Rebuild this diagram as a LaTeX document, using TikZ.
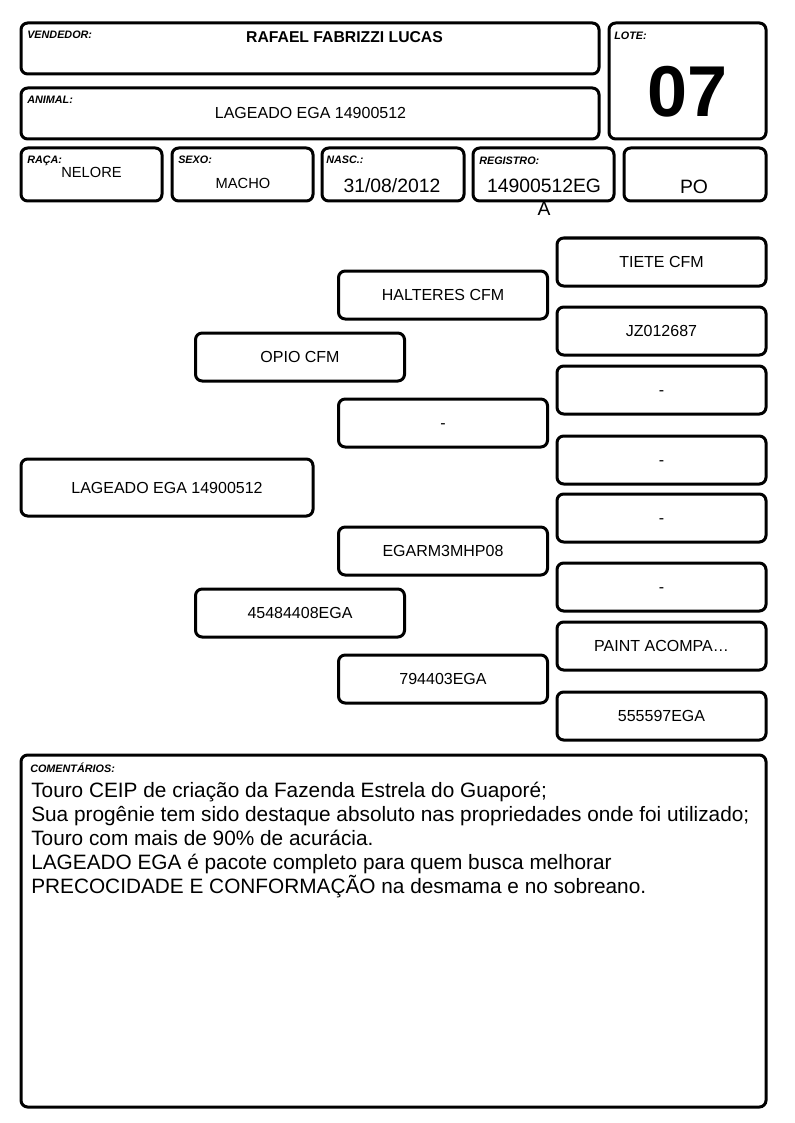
\documentclass[tikz,border=0pt]{standalone}
\usepackage{fontspec}
\setmainfont{Liberation Sans}
\usepackage{tikz}
\usetikzlibrary{positioning}

\begin{document}
\begin{tikzpicture}[
  x=0.75pt,y=-0.75pt,
  card/.style={draw=black,line width=2.25pt,rounded corners=5pt,inner sep=0pt},
  size/.style 2 args={minimum width=#1*0.75pt,minimum height=#2*0.75pt},
  ped/.style={card,size={209}{48},font=\fontsize{12}{14}\selectfont,text height=8.6pt,text depth=0pt},
  tag/.style={anchor=north west,inner sep=0pt,font=\fontsize{8.1}{9}\selectfont\bfseries\itshape},
  value/.style={inner sep=0pt,font=\fontsize{11}{13}\selectfont},
  bigvalue/.style={inner sep=0pt,font=\fontsize{14.5}{17}\selectfont,align=center}
]
\useasboundingbox (0,0) rectangle (794,1123);
% header
\node[card,size={578}{51}] (vendedor) at (310,48.5) {};
\node[card,size={578}{51}] (animal) at (310,113.5) {};
\node[card,size={157}{116}] (lote) at (687.5,81) {};
\node[card,size={141}{53}] (raca) at (91.5,174.5) {};
\node[card,size={141}{53}] (sexo) at (242.5,174.5) {};
\node[card,size={142}{53}] (nasc) at (393,174.5) {};
\node[card,size={141}{53}] (registro) at (543.5,174.5) {};
\node[card,size={142}{53}] (categoria) at (695,174.5) {};
\node[tag] (tvendedor) at (27,31) {VENDEDOR:};
\node[tag] (tanimal) at (27,96) {ANIMAL:};
\node[tag] (tlote) at (614,32) {LOTE:};
\node[tag] (traca) at (27,155.5) {RAÇA:};
\node[tag] (tsexo) at (178,155.5) {SEXO:};
\node[tag] (tnasc) at (326,155.5) {NASC.:};
\node[tag] (tregistro) at (479,156.5) {REGISTRO:};
\node[inner sep=0pt,font=\fontsize{11.8}{14}\selectfont\bfseries] (vvendedor) at (344.5,37) {RAFAEL FABRIZZI LUCAS};
\node[value,font=\fontsize{12}{14}\selectfont] (vanimal) at (310.5,113) {LAGEADO EGA 14900512};
\node[inner sep=0pt,font=\fontsize{54}{60}\selectfont\bfseries] (vlote) at (687.5,92) {07};
\node[value] (vraca) at (91.5,172.5) {NELORE};
\node[value] (vsexo) at (243,183.5) {MACHO};
\node[bigvalue] (vnasc) at (392,185.5) {31/08/2012};
\node[bigvalue,anchor=north] (vregistro) at (544,179) {14900512EG\\A};
\node[bigvalue] (vcategoria) at (694,186.5) {PO};
% pedigree
\node[card,size={292}{57},font=\fontsize{12}{14}\selectfont] (proprio) at (167,487.5) {LAGEADO EGA 14900512};
\node[ped] (pai) at (300,357) {OPIO CFM};
\node[ped] (mae) at (300,613) {45484408EGA};
\node[ped] (avopp) at (443,295) {HALTERES CFM};
\node[ped] (avopm) at (443,423) {-};
\node[ped] (avomp) at (443,551) {EGARM3MHP08};
\node[ped] (avomm) at (443,679) {794403EGA};
\node[ped] (bis1) at (661.5,262) {TIETE CFM};
\node[ped] (bis2) at (661.5,331) {JZ012687};
\node[ped] (bis3) at (661.5,390) {-};
\node[ped] (bis4) at (661.5,460) {-};
\node[ped] (bis5) at (661.5,518) {-};
\node[ped] (bis6) at (661.5,587) {-};
\node[ped] (bis7) at (661.5,646) {PAINT ACOMPA…};
\node[ped] (bis8) at (661.5,716) {555597EGA};
% comentarios
\node[card,size={745}{352}] (comentarios) at (393.5,931) {};
\node[tag] (tcomentarios) at (30,763) {COMENTÁRIOS:};
\node[anchor=north west,inner sep=0pt,align=left,font=\fontsize{15.6}{18}\selectfont] (vcomentarios) at (31,782) {Touro CEIP de criação da Fazenda Estrela do Guaporé;\\
Sua progênie tem sido destaque absoluto nas propriedades onde foi utilizado;\\
Touro com mais de 90\% de acurácia.\\
LAGEADO EGA é pacote completo para quem busca melhorar\\
PRECOCIDADE E CONFORMAÇÃO na desmama e no sobreano.};
\end{tikzpicture}
\end{document}
